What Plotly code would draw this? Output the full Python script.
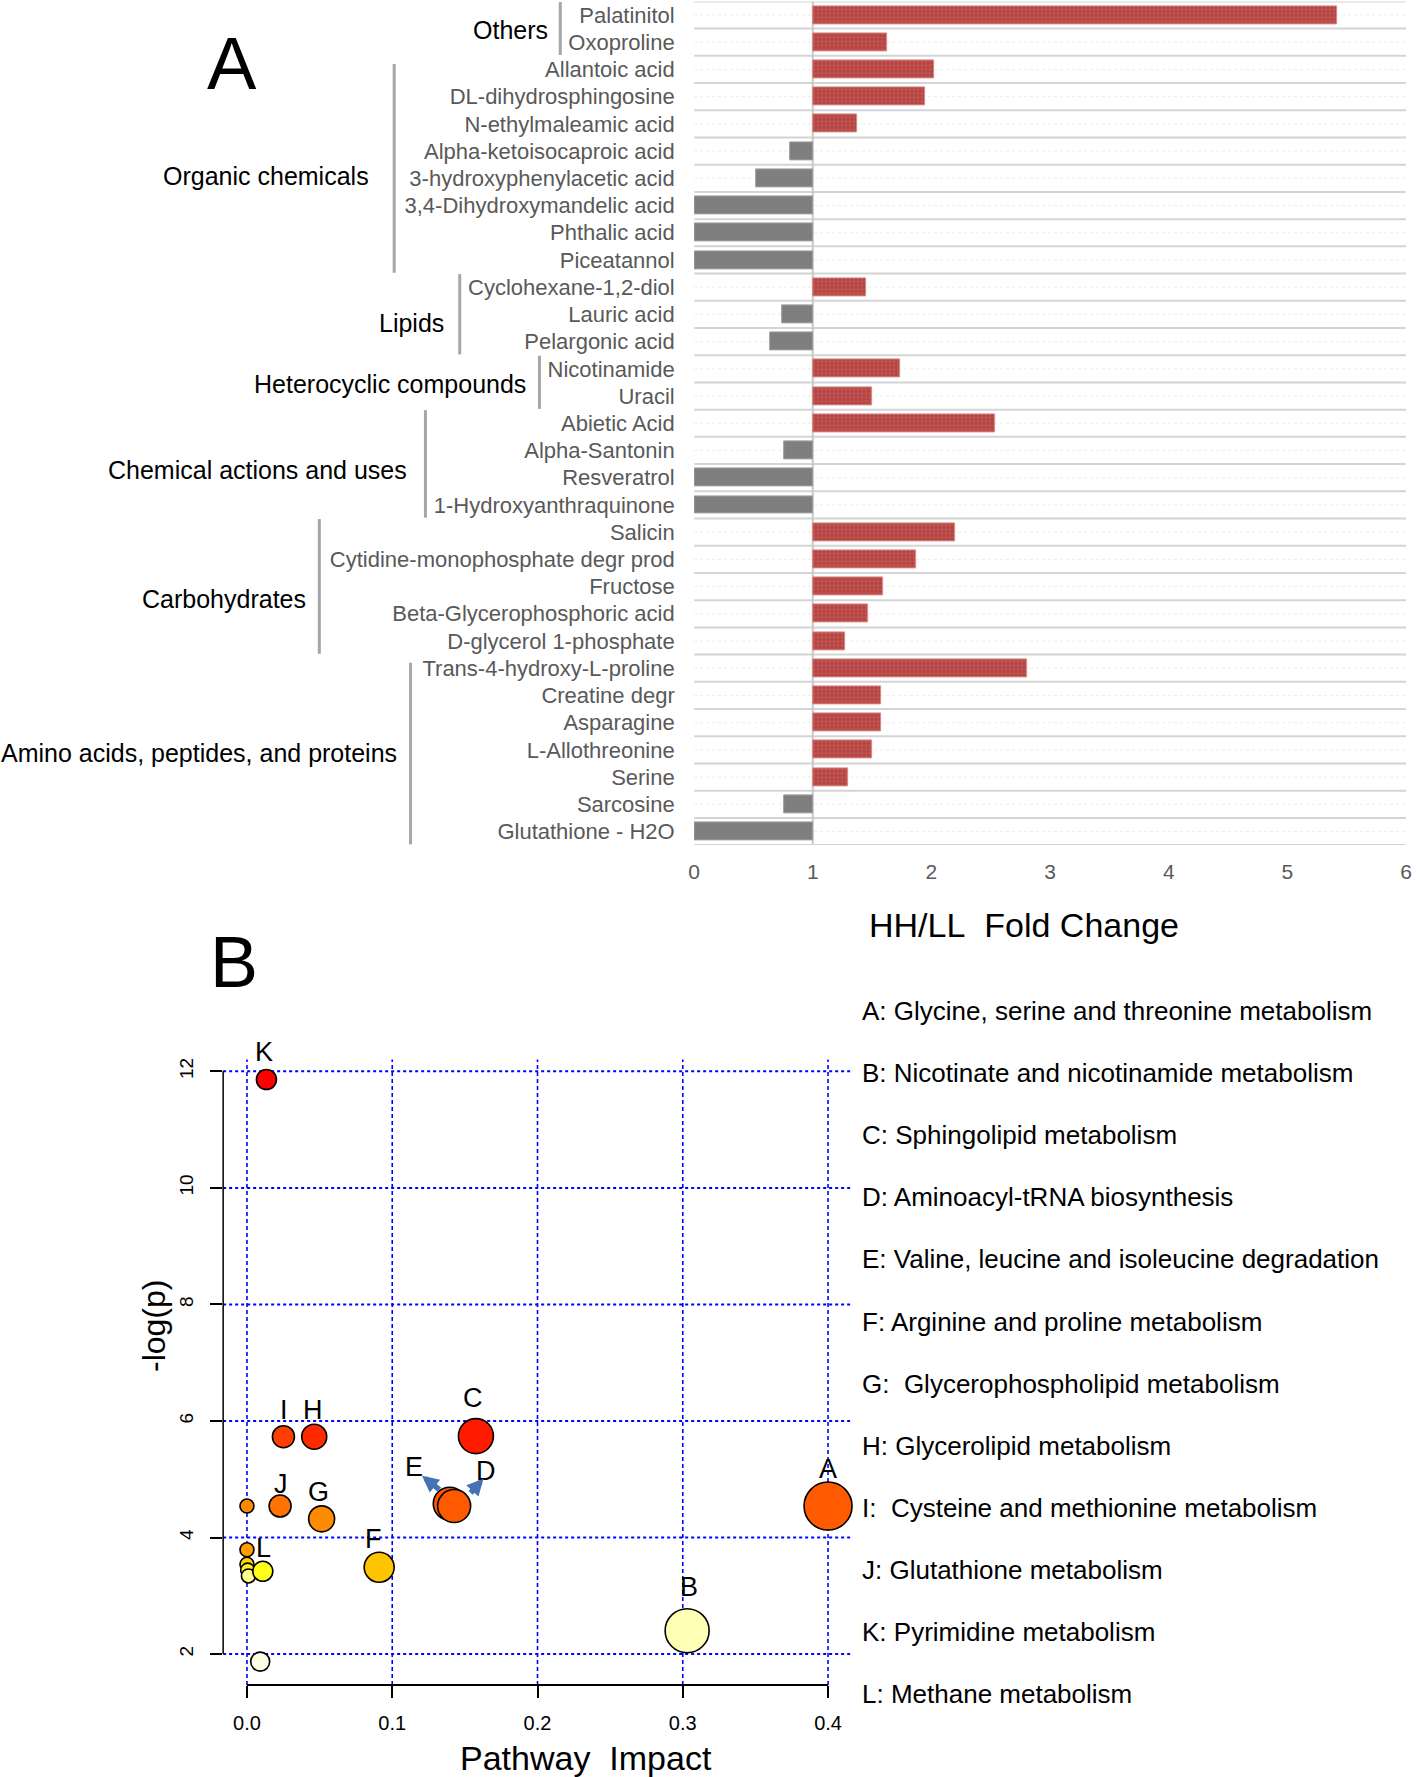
import plotly.graph_objects as go

# ---------------- Panel A data ----------------
compounds = [
    "Palatinitol", "Oxoproline",
    "Allantoic acid", "DL-dihydrosphingosine", "N-ethylmaleamic acid", "Alpha-ketoisocaproic acid",
    "3-hydroxyphenylacetic acid", "3,4-Dihydroxymandelic acid", "Phthalic acid", "Piceatannol",
    "Cyclohexane-1,2-diol", "Lauric acid", "Pelargonic acid",
    "Nicotinamide", "Uracil",
    "Abietic Acid", "Alpha-Santonin", "Resveratrol", "1-Hydroxyanthraquinone",
    "Salicin", "Cytidine-monophosphate degr prod", "Fructose", "Beta-Glycerophosphoric acid", "D-glycerol 1-phosphate",
    "Trans-4-hydroxy-L-proline", "Creatine degr", "Asparagine", "L-Allothreonine", "Serine", "Sarcosine", "Glutathione - H2O",
]
fold_change = [
    5.42, 1.63,
    2.02, 1.95, 1.37, 0.81, 0.52, 0.0, 0.0, 0.0,
    1.45, 0.74, 0.64,
    1.74, 1.50,
    2.54, 0.76, 0.0, 0.0,
    2.20, 1.87, 1.59, 1.47, 1.27,
    2.81, 1.58, 1.58, 1.50, 1.30, 0.76, 0.0,
]
groups = ["Others", "Organic chemicals", "Lipids", "Heterocyclic compounds",
          "Chemical actions and uses", "Carbohydrates", "Amino acids, peptides, and proteins"]
group_counts = [2, 8, 3, 2, 4, 5, 7]
fc_ticks = [0, 1, 2, 3, 4, 5, 6]

# ---------------- Panel B data ----------------
pw_label = ["A", "B", "C", "E", "D", "F", "G", "H", "I", "J", "K", "", "", "", "", "", "L", ""]
pw_impact = [0.400, 0.303, 0.1576, 0.1396, 0.1426, 0.091, 0.0514, 0.0463, 0.0251, 0.0228, 0.0134,
             0.0, 0.0, 0.0, 0.0005, 0.0010, 0.0109, 0.0091]
pw_logp = [4.54, 2.40, 5.74, 4.58, 4.54, 3.49, 4.32, 5.73, 5.73, 4.54, 11.86,
           4.54, 3.79, 3.54, 3.44, 3.34, 3.42, 1.87]
pw_size = [48, 44, 35, 33, 33, 30, 26, 25, 22, 22, 20, 14, 14, 14, 14, 14, 20, 19]
pw_color = ["#FF5A00", "#FFFFB5", "#FF1A00", "#FF5500", "#FF5A00", "#FFC400", "#FF8C00", "#FF2A00",
            "#FF3F00", "#FF7300", "#FF0000", "#FF8A00", "#FF9D00", "#FFD500", "#FFF22A", "#FFFF8C",
            "#FFFF1A", "#FFFFE5"]
letters = ["K", "I", "H", "C", "E", "D", "A", "J", "G", "F", "L", "B"]
letter_x = [0.0120, 0.0257, 0.0455, 0.1555, 0.115, 0.1644, 0.400, 0.0236, 0.0489, 0.0872, 0.0113, 0.304]
letter_y = [12.34, 6.19, 6.19, 6.40, 5.21, 5.14, 5.18, 4.92, 4.78, 3.97, 3.82, 3.15]
pathways = [
    "A: Glycine, serine and threonine metabolism",
    "B: Nicotinate and nicotinamide metabolism",
    "C: Sphingolipid metabolism",
    "D: Aminoacyl-tRNA biosynthesis",
    "E: Valine, leucine and isoleucine degradation",
    "F: Arginine and proline metabolism",
    "G:  Glycerophospholipid metabolism",
    "H: Glycerolipid metabolism",
    "I:  Cysteine and methionine metabolism",
    "J: Glutathione metabolism",
    "K: Pyrimidine metabolism",
    "L: Methane metabolism",
]
impact_ticks = [0.0, 0.1, 0.2, 0.3, 0.4]
logp_ticks = [2, 4, 6, 8, 10, 12]

# ---------------- layout helpers ----------------
W, H = 1418, 1777
FONT = "Liberation Sans, Arial, Helvetica, sans-serif"


def PX(px):
    return px / W


def PY(py):
    return 1 - py / H


X2_DOMAIN = [PX(219), PX(852.5)]
Y2_DOMAIN = [PY(1685), PY(1059)]
X2_RANGE = [-0.0164, 0.4160]
Y2_RANGE = [1.468, 12.205]


def x2paper(v):
    return X2_DOMAIN[0] + (v - X2_RANGE[0]) / (X2_RANGE[1] - X2_RANGE[0]) * (X2_DOMAIN[1] - X2_DOMAIN[0])


def y2paper(v):
    return Y2_DOMAIN[0] + (v - Y2_RANGE[0]) / (Y2_RANGE[1] - Y2_RANGE[0]) * (Y2_DOMAIN[1] - Y2_DOMAIN[0])


fig = go.Figure()

# ---- bars (panel A) ----
rows = list(range(len(compounds)))
up_y = [r for r, v in zip(rows, fold_change) if v >= 1]
up_v = [v - 1 for v in fold_change if v >= 1]
dn_y = [r for r, v in zip(rows, fold_change) if v < 1]
dn_v = [v - 1 for v in fold_change if v < 1]

fig.add_trace(go.Bar(
    y=up_y, x=up_v, base=1, orientation="h", width=0.66,
    marker=dict(color="#C0504D", line=dict(color="#D98A88", width=1),
                pattern=dict(shape=".", fgcolor="#7A2222", bgcolor="#C0504D", size=4, solidity=0.18)),
    xaxis="x", yaxis="y", showlegend=False, hoverinfo="skip"))
fig.add_trace(go.Bar(
    y=dn_y, x=dn_v, base=1, orientation="h", width=0.66,
    marker=dict(color="#7F7F7F", line=dict(color="#A0A0A0", width=1)),
    xaxis="x", yaxis="y", showlegend=False, hoverinfo="skip"))

shapes = []
annotations = []

# row gridlines
for r in range(-1, len(compounds)):
    shapes.append(dict(type="line", xref="x", yref="y", x0=0, x1=6, y0=r + 0.5, y1=r + 0.5,
                       line=dict(color="#D4D4D4", width=2), layer="below"))
for r in rows:
    shapes.append(dict(type="line", xref="x", yref="y", x0=0, x1=6, y0=r, y1=r,
                       line=dict(color="#EDEDED", width=1, dash="dot"), layer="below"))
# base line at 1
shapes.append(dict(type="line", xref="x", yref="y", x0=1, x1=1, y0=-0.5, y1=len(compounds) - 0.5,
                   line=dict(color="#C8C8C8", width=2), layer="below"))

# group brackets & labels
bracket_px = [559, 391.5, 457.6, 538, 423, 316, 408]
label_right_px = [549, 368, 444, 526, 406, 305, 396]
label_row_offset = [0.05, 0.4, 0.3, 0.07, 0.2, 0.45, 0.1]
start = 0
for g, n, bx, lx, off in zip(groups, group_counts, bracket_px, label_right_px, label_row_offset):
    end = start + n - 1
    top_gap = 0.3 if start > 0 and n > 5 else 0.02
    shapes.append(dict(type="line", xref="paper", yref="y", x0=PX(bx), x1=PX(bx),
                       y0=start - 0.5 + top_gap, y1=end + 0.5 - 0.03,
                       line=dict(color="#A6A6A6", width=3)))
    annotations.append(dict(xref="paper", yref="y", x=PX(lx), y=(start + end) / 2 + off,
                            text=g, showarrow=False, xanchor="right", yanchor="middle",
                            font=dict(family=FONT, size=25, color="#000000")))
    start = end + 1

annotations.append(dict(xref="paper", yref="paper", x=PX(228), y=PY(63), text="A", showarrow=False,
                        xanchor="center", yanchor="middle", font=dict(family=FONT, size=74, color="#000")))
annotations.append(dict(xref="paper", yref="paper", x=PX(1027), y=PY(925),
                        text="HH/LL\u00a0\u00a0Fold Change", showarrow=False,
                        xanchor="center", yanchor="middle", font=dict(family=FONT, size=34, color="#000")))

# ---- bubbles (panel B) ----
fig.add_trace(go.Scatter(
    x=pw_impact, y=pw_logp, mode="markers",
    marker=dict(size=pw_size, color=pw_color, line=dict(color="#000000", width=1.6), opacity=1),
    xaxis="x2", yaxis="y2", showlegend=False, hoverinfo="skip", cliponaxis=False))

for t, lx, ly in zip(letters, letter_x, letter_y):
    annotations.append(dict(xref="paper", yref="paper", x=x2paper(lx), y=y2paper(ly), text=t,
                            showarrow=False, xanchor="center", yanchor="middle",
                            font=dict(family=FONT, size=27, color="#000")))

# arrows for E and D
arrow_tip = [(0.1205, 5.06), (0.1628, 5.01)]
arrow_tail = [(0.1335, 4.80), (0.1530, 4.74)]
for (tx, ty), (ax_, ay_) in zip(arrow_tip, arrow_tail):
    annotations.append(dict(xref="x2", yref="y2", axref="x2", ayref="y2", x=tx, y=ty, ax=ax_, ay=ay_,
                            text="", showarrow=True, arrowhead=2, arrowsize=0.6, arrowwidth=5.5,
                            arrowcolor="#4472B4", standoff=0, startstandoff=0))

# grid for panel B
for v in logp_ticks:
    shapes.append(dict(type="line", xref="x2 domain", yref="y2", x0=0, x1=1, y0=v, y1=v,
                       line=dict(color="#0000FF", width=2, dash="dot"), layer="below"))
for v in impact_ticks:
    shapes.append(dict(type="line", xref="x2", yref="y2 domain", x0=v, x1=v, y0=0, y1=1,
                       line=dict(color="#0000FF", width=1.6, dash="4px,3px"), layer="below"))
# axis lines (R style)
shapes.append(dict(type="line", xref="x2", yref="y2 domain", x0=impact_ticks[0], x1=impact_ticks[-1],
                   y0=0, y1=0, line=dict(color="#000", width=2)))
shapes.append(dict(type="line", xref="x2 domain", yref="y2", x0=0, x1=0, y0=logp_ticks[0],
                   y1=logp_ticks[-1], line=dict(color="#000", width=1.5)))

# pathway legend text
for i, p in enumerate(pathways):
    annotations.append(dict(xref="paper", yref="paper", x=PX(861), y=PY(1010.8 + i * 62.1), text=p,
                            showarrow=False, xanchor="left", yanchor="middle",
                            font=dict(family=FONT, size=26, color="#000")))

annotations.append(dict(xref="paper", yref="paper", x=PX(230), y=PY(962), text="B", showarrow=False,
                        xanchor="center", yanchor="middle", font=dict(family=FONT, size=72, color="#000")))
annotations.append(dict(xref="paper", yref="paper", x=PX(585), y=PY(1758),
                        text="Pathway\u00a0\u00a0Impact", showarrow=False,
                        xanchor="center", yanchor="middle", font=dict(family=FONT, size=34, color="#000")))
annotations.append(dict(xref="paper", yref="paper", x=PX(150), y=PY(1326), text="-log(p)",
                        showarrow=False, textangle=-90, xanchor="center", yanchor="middle",
                        font=dict(family=FONT, size=32, color="#000")))

fig.update_layout(
    width=W, height=H, margin=dict(l=0, r=0, t=0, b=0),
    paper_bgcolor="white", plot_bgcolor="white",
    barmode="overlay", bargap=0,
    font=dict(family=FONT),
    xaxis=dict(domain=[PX(694), PX(1412)], range=[0, 6], tickvals=fc_ticks,
               ticktext=[str(t) for t in fc_ticks], showgrid=False, zeroline=False, showline=False,
               ticks="outside", ticklen=8, tickcolor="rgba(0,0,0,0)",
               tickfont=dict(family=FONT, size=21, color="#595959"), anchor="y", fixedrange=True),
    yaxis=dict(domain=[PY(844.6), PY(0.4)], range=[len(compounds) - 0.5, -0.5], tickvals=rows,
               ticktext=compounds, showgrid=False, zeroline=False, showline=False,
               ticks="outside", ticklen=14, tickcolor="rgba(0,0,0,0)",
               tickfont=dict(family=FONT, size=22, color="#595959"), anchor="x", fixedrange=True),
    xaxis2=dict(domain=X2_DOMAIN, range=X2_RANGE, tickvals=impact_ticks,
                ticktext=["%.1f" % t for t in impact_ticks], showgrid=False, zeroline=False,
                showline=False, ticks="outside", ticklen=12, tickwidth=2, tickcolor="#000",
                ticklabelstandoff=8,
                tickfont=dict(family=FONT, size=20, color="#000"), anchor="y2", fixedrange=True),
    yaxis2=dict(domain=Y2_DOMAIN, range=Y2_RANGE, tickvals=logp_ticks,
                ticktext=[str(t) for t in logp_ticks], showgrid=False, zeroline=False,
                showline=False, ticks="outside", ticklen=12, tickwidth=1.5, tickcolor="#000",
                ticklabelstandoff=10,
                tickangle=-90, tickfont=dict(family=FONT, size=19, color="#000"), anchor="x2",
                fixedrange=True),
    shapes=shapes, annotations=annotations,
)

fig.write_html(
    "out.html",
    config={"displayModeBar": False, "responsive": False},
    post_script=("document.body.style.margin='0';document.body.style.overflow='hidden';"
                 "document.documentElement.style.overflow='hidden';"),
)
